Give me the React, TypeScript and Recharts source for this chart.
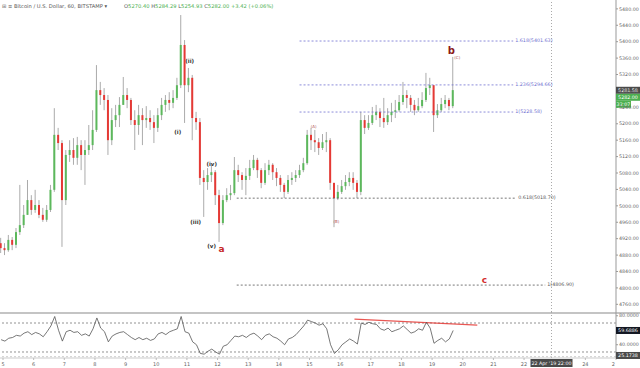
import React from 'react';
import { ComposedChart, Bar, Line, XAxis, YAxis, ReferenceLine, ReferenceDot } from 'recharts';

// 3-hour candles, first one at t = -1.5 h (hours since 5 Apr 00:00)
const FIRST_T = -1.5;
const STEP_H = 3;

const opens = [
  4909, 4897, 4892, 4917, 4905, 4936, 4953, 4978, 5014, 4990,
  5002, 4978, 4966, 4990, 5039, 5173, 5153, 5014, 5124, 5136,
  5117, 5148, 5124, 5136, 5148, 5185, 5282, 5270, 5258, 5160,
  5209, 5221, 5246, 5270, 5258, 5209, 5197, 5221, 5209, 5214,
  5204, 5190, 5221, 5246, 5258, 5251, 5263, 5294, 5392, 5294,
  5312, 5214, 5204, 5068, 5058, 5075, 5082, 5026, 4958, 5014,
  5026, 5031, 5087, 5075, 5063, 5073, 5092, 5112, 5087, 5056,
  5087, 5100, 5082, 5068, 5051, 5034, 5063, 5068, 5075, 5087,
  5104, 5173, 5160, 5155, 5141, 5155, 5160, 5056, 5019, 5034,
  5048, 5058, 5068, 5056, 5034, 5209, 5190, 5202, 5221, 5229,
  5214, 5204, 5221, 5229, 5233, 5253, 5270, 5263, 5246, 5233,
  5243, 5258, 5287, 5294, 5221, 5233, 5248, 5258, 5243,
];
const closes = [
  4897, 4892, 4917, 4905, 4936, 4953, 4978, 5014, 4990, 5002,
  4978, 4966, 4990, 5039, 5173, 5153, 5014, 5124, 5136, 5117,
  5148, 5124, 5136, 5148, 5185, 5282, 5270, 5258, 5160, 5209,
  5221, 5246, 5270, 5258, 5209, 5197, 5221, 5209, 5214, 5204,
  5190, 5221, 5246, 5258, 5251, 5263, 5294, 5392, 5294, 5312,
  5214, 5204, 5068, 5058, 5075, 5082, 5026, 4958, 5014, 5026,
  5031, 5087, 5075, 5063, 5073, 5092, 5112, 5087, 5056, 5087,
  5100, 5082, 5068, 5051, 5034, 5063, 5068, 5075, 5087, 5104,
  5173, 5160, 5155, 5141, 5155, 5160, 5056, 5019, 5034, 5048,
  5058, 5068, 5056, 5034, 5209, 5190, 5202, 5221, 5229, 5214,
  5204, 5221, 5229, 5233, 5253, 5270, 5263, 5246, 5233, 5243,
  5258, 5287, 5294, 5221, 5233, 5248, 5258, 5243, 5282,
];
const highs = [
  4922, 4909, 4929, 4924, 4946, 5051, 5002, 5063, 5026, 5039,
  5014, 4995, 5002, 5051, 5238, 5190, 5160, 5136, 5160, 5165,
  5168, 5160, 5160, 5197, 5233, 5343, 5302, 5287, 5270, 5238,
  5246, 5265, 5314, 5287, 5263, 5233, 5246, 5238, 5243, 5233,
  5221, 5238, 5263, 5270, 5277, 5282, 5312, 5465, 5404, 5336,
  5319, 5229, 5214, 5087, 5092, 5100, 5087, 5039, 5026, 5043,
  5051, 5119, 5100, 5082, 5092, 5112, 5124, 5117, 5092, 5104,
  5112, 5104, 5092, 5075, 5056, 5075, 5082, 5087, 5100, 5117,
  5185, 5190, 5185, 5165, 5175, 5180, 5165, 5056, 5051, 5063,
  5075, 5082, 5082, 5063, 5229, 5221, 5221, 5241, 5246, 5238,
  5263, 5238, 5251, 5258, 5270, 5302, 5282, 5270, 5258, 5263,
  5277, 5324, 5312, 5294, 5248, 5263, 5270, 5263, 5363,
];
const lows = [
  4885, 4880, 4888, 4892, 4897, 4929, 4946, 4978, 4978, 4983,
  4970, 4961, 4961, 4985, 5034, 5136, 4900, 5002, 5107, 5100,
  5100, 5087, 5051, 5124, 5136, 5180, 5246, 5233, 5124, 5148,
  5192, 5192, 5246, 5238, 5197, 5136, 5173, 5148, 5190, 5185,
  5153, 5180, 5209, 5229, 5233, 5238, 5258, 5287, 5202, 5277,
  5160, 5185, 5051, 4973, 5039, 5058, 5002, 4912, 4953, 5009,
  5014, 5026, 5058, 5039, 5026, 5063, 5087, 5068, 5043, 5051,
  5075, 5063, 5048, 5034, 5019, 5029, 5051, 5058, 5068, 5082,
  5100, 5136, 5131, 5124, 5136, 5131, 5039, 4948, 5014, 5029,
  5039, 5048, 5039, 5019, 5026, 5175, 5185, 5197, 5209, 5192,
  5190, 5197, 5204, 5214, 5229, 5246, 5238, 5229, 5221, 5229,
  5238, 5253, 5270, 5180, 5214, 5229, 5238, 5233, 5238,
];
const rsiValues = [
  47, 45, 49, 50, 53, 52, 56, 58, 54, 57,
  55, 51, 58, 66, 79, 60, 45, 58, 60, 57,
  58, 53, 55, 52, 62, 77, 63, 58, 44, 52,
  55, 57, 58, 54, 50, 47, 50, 47, 49, 46,
  48, 55, 57, 54, 58, 60, 62, 79, 58, 56,
  44, 40, 28, 27, 31, 34, 30, 27, 38, 40,
  46, 52, 51, 53, 50, 54, 56, 52, 47, 53,
  55, 51, 49, 45, 40, 48, 50, 54, 60, 66,
  74, 72, 70, 67, 69, 62, 40, 28, 33, 40,
  44, 48, 45, 41, 70, 68, 71, 69, 68, 62,
  60, 63, 58, 60, 62, 66, 61, 56, 58, 62,
  60, 71, 63, 42, 46, 49, 44, 48, 59.69,
];

const priceTicks = [4760, 4800, 4840, 4880, 4920, 4960, 5000, 5040, 5080, 5120, 5160, 5200, 5240, 5280, 5320, 5360, 5400, 5440, 5480];
const rsiTicks = [40, 80];
const dayLabels = [5, 6, 7, 8, 9, 10, 11, 12, 13, 14, 15, 16, 17, 18, 19, 20, 21, 22, 24, 25];

const T_MIN = -2.35;
const T_MAX = 480;
const P_MIN = 4741.3;
const P_MAX = 5501.6;
const R_MIN = 21.7;
const R_MAX = 85.2;
const CROSS_T = 429.5;

const BLUE = '#6f6fd0';
const DARK = '#555';
const UP = '#5cb85c';
const DOWN = '#e53935';
const WICK = '#ababab';
const FONT = '"DejaVu Sans", "Liberation Sans", sans-serif';

const fibLines = [
  { level: 5401.63, text: '1.618(5401.63)', from: 232.2, to: 399.5, labelT: 401.1, color: BLUE },
  { level: 5294.66, text: '1.236(5294.66)', from: 232.2, to: 399.5, labelT: 401.1, color: BLUE },
  { level: 5228.58, text: '1(5228.58)', from: 232.2, to: 399.5, labelT: 401.1, color: BLUE },
  { level: 5018.7, text: '0.618(5018.70)', from: 183, to: 401.9, labelT: 403.5, color: DARK },
  { level: 4806.9, text: '1(4806.90)', from: 183, to: 424.6, labelT: 426.2, color: DARK },
];

const waveLabels = [
  { t: 146.2, p: 5348, text: '(ii)', color: '#333', size: 5.5, weight: 700 },
  { t: 136.8, p: 5175, text: '(i)', color: '#333', size: 5.5, weight: 700 },
  { t: 150.9, p: 4956, text: '(iii)', color: '#333', size: 5.5, weight: 700 },
  { t: 163.4, p: 5097, text: '(iv)', color: '#333', size: 5.5, weight: 700 },
  { t: 163.4, p: 4897, text: '(v)', color: '#333', size: 5.5, weight: 700 },
  { t: 171.2, p: 4887, text: 'a', color: '#c62828', size: 9, weight: 700 },
  { t: 243.2, p: 5190, text: '(A)', color: '#b05050', size: 4, weight: 400 },
  { t: 261.1, p: 4958, text: '(B)', color: '#b05050', size: 4, weight: 400 },
  { t: 351.1, p: 5370, text: 'b', color: '#8b1a1a', size: 10, weight: 700 },
  { t: 355.7, p: 5358, text: '(C)', color: '#b05050', size: 4, weight: 400 },
  { t: 376.9, p: 4812, text: 'c', color: '#d32f2f', size: 9, weight: 700 },
];

const data = opens.map((o, i) => ({
  t: FIRST_T + STEP_H * i,
  open: o,
  close: closes[i],
  high: highs[i],
  low: lows[i],
  rsi: rsiValues[i],
}));

const Candle = (props: any) => {
  const { x, y, width, height, payload } = props;
  if (!payload || x == null) return null;
  const { open, close, high, low } = payload;
  const top = Math.min(y, y + height);
  const h = Math.abs(height);
  const cx = x + width / 2;
  const span = high - low || 1;
  const yOf = (v: number) => top + ((high - v) / span) * h;
  const up = close >= open;
  const bTop = yOf(Math.max(open, close));
  const bBot = yOf(Math.min(open, close));
  return (
    <g>
      <line x1={cx} x2={cx} y1={top} y2={top + h} stroke={WICK} strokeWidth={1} />
      <rect x={cx - 1} y={bTop} width={2} height={Math.max(bBot - bTop, 0.8)} fill={up ? UP : DOWN} />
    </g>
  );
};

const textShape = (text: string, opts: any) => (p: any) => (
  <text
    x={p.cx}
    y={p.cy}
    fontSize={opts.size}
    fontWeight={opts.weight || 400}
    fill={opts.color}
    stroke="none"
    textAnchor={opts.anchor || 'middle'}
    dominantBaseline={opts.baseline || 'alphabetic'}
    fontFamily={FONT}
  >
    {text}
  </text>
);

const boxShape = (text: string, bg: string, dy: number, w = 24, fg = '#fff') => (p: any) => (
  <g>
    <rect x={p.cx} y={p.cy + dy - 3.5} width={w} height={7} fill={bg} />
    <text x={p.cx + w / 2} y={p.cy + dy + 1.8} fontSize={4.8} fill={fg} textAnchor="middle" fontFamily={FONT}>
      {text}
    </text>
  </g>
);

const DayTick = (p: any) => {
  const { x, y, payload } = p;
  const d = payload.value / 24 + 5;
  const last = d === 25;
  return (
    <text x={last ? x - 1 : x} y={y + 4} fontSize={5} fill="#666" textAnchor={last ? 'end' : 'middle'} fontFamily={FONT}>
      {last ? '2' : String(d)}
    </text>
  );
};

export default function App() {
  const dayTicks = dayLabels.map((d) => (d - 5) * 24);
  return (
    <div style={{ position: 'absolute', left: 0, top: 0, width: 640, height: 368, background: '#fff', overflow: 'hidden' }}>
      <div style={{ position: 'absolute', left: 0, top: 0 }}>
        <ComposedChart width={640} height={312} data={data} margin={{ top: 0, right: 0, bottom: 0, left: 0 }}>
          <XAxis type="number" dataKey="t" domain={[T_MIN, T_MAX]} hide allowDataOverflow />
          <YAxis
            orientation="right"
            width={24}
            domain={[P_MIN, P_MAX]}
            ticks={priceTicks}
            interval={0}
            allowDataOverflow
            tickSize={2}
            tickMargin={1}
            tickFormatter={(v: number) => v.toFixed(2)}
            tick={{ fontSize: 4.8, fill: '#666', fontFamily: FONT }}
            axisLine={{ stroke: '#999' }}
            tickLine={{ stroke: '#999' }}
          />
          <ReferenceLine x={CROSS_T} stroke="#aaa" strokeDasharray="1 2" ifOverflow="visible" />
          {fibLines.map((f) => (
            <ReferenceLine
              key={f.text}
              segment={[{ x: f.from, y: f.level }, { x: f.to, y: f.level }]}
              stroke={f.color}
              strokeDasharray="2 2"
              strokeWidth={0.8}
              ifOverflow="visible"
            />
          ))}
          {fibLines.map((f) => (
            <ReferenceDot
              key={'l' + f.text}
              x={f.labelT}
              y={f.level}
              r={0}
              ifOverflow="visible"
              shape={textShape(f.text, { size: 4.8, color: f.color, anchor: 'start', baseline: 'middle' })}
            />
          ))}
          <Bar dataKey={(d: any) => [d.low, d.high]} shape={Candle} barSize={3} isAnimationActive={false} />
          {waveLabels.map((w, i) => (
            <ReferenceDot key={'w' + i} x={w.t} y={w.p} r={0} ifOverflow="visible" shape={textShape(w.text, w)} />
          ))}
          <ReferenceDot x={T_MAX} y={5281.58} r={0} ifOverflow="visible" shape={boxShape('5281.58', '#4a4a4a', 0)} />
          <ReferenceDot x={T_MAX} y={5281.58} r={0} ifOverflow="visible" shape={boxShape('5282.00', '#4caf50', 7)} />
          <ReferenceDot x={T_MAX} y={5281.58} r={0} ifOverflow="visible" shape={boxShape('32:07', '#4caf50', 14, 15)} />
        </ComposedChart>
      </div>
      <div style={{ position: 'absolute', left: 0, top: 312, width: 640, height: 2, background: '#c4c4c4' }} />
      <div style={{ position: 'absolute', left: 0, top: 312 }}>
        <ComposedChart width={640} height={56} data={data} margin={{ top: 0, right: 0, bottom: 0, left: 0 }}>
          <XAxis
            type="number"
            dataKey="t"
            domain={[T_MIN, T_MAX]}
            ticks={dayTicks}
            interval={0}
            allowDataOverflow
            height={10}
            tickSize={2}
            tick={DayTick}
            axisLine={{ stroke: '#ccc' }}
            tickLine={{ stroke: '#bbb' }}
          />
          <YAxis
            orientation="right"
            width={24}
            domain={[R_MIN, R_MAX]}
            ticks={rsiTicks}
            interval={0}
            allowDataOverflow
            tickSize={2}
            tickMargin={1}
            tickFormatter={(v: number) => v.toFixed(4)}
            tick={{ fontSize: 4.8, fill: '#666', fontFamily: FONT }}
            axisLine={{ stroke: '#999' }}
            tickLine={{ stroke: '#999' }}
          />
          <ReferenceLine y={70} stroke="#777" strokeDasharray="2 2" strokeWidth={0.8} />
          <ReferenceLine y={30} stroke="#777" strokeDasharray="2 2" strokeWidth={0.8} />
          <ReferenceLine y={23.5} stroke="#aaa" strokeDasharray="2 2" strokeWidth={0.6} />
          <ReferenceLine x={CROSS_T} stroke="#aaa" strokeDasharray="1 2" />
          <ReferenceLine
            segment={[{ x: 275.2, y: 75.5 }, { x: 371.4, y: 67.2 }]}
            stroke="#e53935"
            strokeWidth={1.2}
            strokeOpacity={0.85}
            ifOverflow="visible"
          />
          <Line type="linear" dataKey="rsi" stroke="#555" strokeWidth={0.8} dot={false} isAnimationActive={false} />
          <ReferenceDot x={T_MAX} y={59.6886} r={0} ifOverflow="visible" shape={boxShape('59.6886', '#131722', 0)} />
          <ReferenceDot x={T_MAX} y={25.1738} r={0} ifOverflow="visible" shape={boxShape('25.1738', '#4a4a4a', 0)} />
          <ReferenceDot
            x={CROSS_T}
            y={R_MIN}
            r={0}
            ifOverflow="visible"
            shape={(p: any) => (
              <g>
                <rect x={p.cx - 21} y={p.cy + 1} width={42} height={8} fill="#4a4a4a" />
                <text x={p.cx} y={p.cy + 6.6} fontSize={4.8} fill="#fff" textAnchor="middle" fontFamily={FONT}>
                  22 Apr '19 22:00
                </text>
              </g>
            )}
          />
        </ComposedChart>
      </div>
      <svg width={640} height={12} style={{ position: 'absolute', left: 0, top: 0 }}>
        <text x={2} y={8} fontSize={5.2} fill="#555" fontFamily={FONT}>
          ⊞ ≡ Bitcoin / U.S. Dollar, 60, BITSTAMP ▾
        </text>
        <text x={124} y={8} fontSize={5.2} fill="#4caf50" fontFamily={FONT}>
          <tspan fill="#555">O</tspan>5270.40 <tspan fill="#555">H</tspan>5284.29 <tspan fill="#555">L</tspan>5254.93{' '}
          <tspan fill="#555">C</tspan>5282.00 +3.42 (+0.06%)
        </text>
      </svg>
    </div>
  );
}
